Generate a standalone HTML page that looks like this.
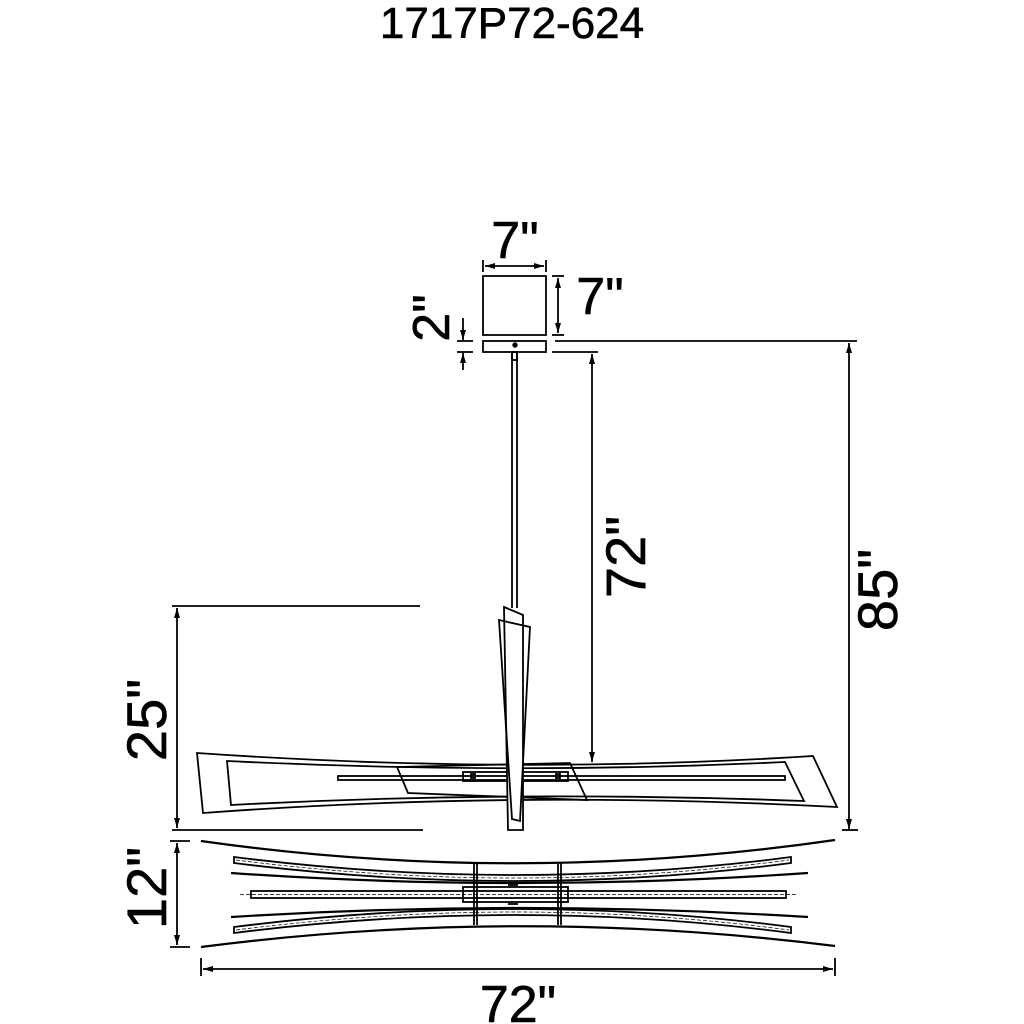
<!DOCTYPE html>
<html><head><meta charset="utf-8"><style>html,body{margin:0;padding:0;background:#fff}svg{display:block}</style></head>
<body>
<svg width="1024" height="1024" viewBox="0 0 1024 1024" xmlns="http://www.w3.org/2000/svg" font-family="Liberation Sans, sans-serif">
<defs>
<marker id="a" viewBox="0 0 10 6" refX="10" refY="3" markerWidth="10" markerHeight="6" orient="auto-start-reverse" markerUnits="userSpaceOnUse"><path d="M0,0 L10,3 L0,6 Z" fill="#000"/></marker>
</defs>
<g fill="#000" text-anchor="middle" stroke="#000" stroke-width="0.6">
<text x="512" y="38" font-size="44">1717P72-624</text>
<text x="515" y="258" font-size="52">7"</text>
<text x="600" y="314" font-size="52">7"</text>
<text transform="translate(449,318) rotate(-90)" font-size="52">2"</text>
<text transform="translate(645,557) rotate(-90)" font-size="56">72"</text>
<text transform="translate(897,590) rotate(-90)" font-size="56">85"</text>
<text transform="translate(166,720) rotate(-90)" font-size="56">25"</text>
<text transform="translate(166,888) rotate(-90)" font-size="56">12"</text>
<text x="518" y="1022" font-size="52">72"</text>
</g>
<g stroke="#000" stroke-width="1.8" fill="none">
<rect x="483" y="276" width="63" height="59"/>
<rect x="483" y="341" width="63" height="11"/>
<circle cx="515" cy="345" r="1.8" fill="#000"/>
<line x1="483" y1="260" x2="483" y2="272"/><line x1="546" y1="260" x2="546" y2="272"/>
<line x1="485" y1="266" x2="544" y2="266" marker-start="url(#a)" marker-end="url(#a)"/>
<line x1="552" y1="276" x2="564" y2="276"/><line x1="552" y1="335" x2="564" y2="335"/>
<line x1="558" y1="278" x2="558" y2="333" marker-start="url(#a)" marker-end="url(#a)"/>
<line x1="457" y1="341" x2="473" y2="341"/><line x1="457" y1="352" x2="473" y2="352"/>
<line x1="463" y1="318" x2="463" y2="340" marker-end="url(#a)"/>
<line x1="463" y1="370" x2="463" y2="353" marker-end="url(#a)"/>
<line x1="512" y1="352" x2="512" y2="608"/><line x1="517" y1="352" x2="517" y2="608"/>
<rect x="512" y="352" width="5" height="8"/>
<line x1="555" y1="341" x2="857" y2="341"/>
<line x1="552" y1="352" x2="598" y2="352"/>
<line x1="592" y1="354" x2="592" y2="762" marker-start="url(#a)" marker-end="url(#a)"/>
<line x1="849" y1="343" x2="849" y2="829" marker-start="url(#a)" marker-end="url(#a)"/>
<line x1="842" y1="830" x2="858" y2="830"/>
<line x1="172" y1="606" x2="420" y2="606"/>
<line x1="172" y1="830" x2="423" y2="830"/>
<line x1="177" y1="608" x2="177" y2="828" marker-start="url(#a)" marker-end="url(#a)"/>
<line x1="170" y1="841" x2="190" y2="841"/><line x1="170" y1="947" x2="190" y2="947"/>
<line x1="177" y1="843" x2="177" y2="945" marker-start="url(#a)" marker-end="url(#a)"/>
<line x1="201" y1="958" x2="201" y2="976"/><line x1="835" y1="958" x2="835" y2="976"/>
<line x1="203" y1="969" x2="833" y2="969" marker-start="url(#a)" marker-end="url(#a)"/>
<path d="M197,753 Q513,775 813,756 L837,807 Q513,790 203,813 Z"/>
<path d="M227,761 Q513,775 785,762 L804,801 Q513,790 231,805 Z"/>
<path d="M397,767 L570,763 L587,800 L408,793 Z"/>
<rect x="338" y="776" width="447" height="4"/>
<rect x="463" y="772" width="105" height="9"/>
<rect x="471" y="774" width="4" height="4"/><rect x="556" y="774" width="4" height="4"/>
<path d="M504,607 L523,615 L523,830 L508,830 Z" fill="#fff"/>
<path d="M499,620 L530,627 L520,821 L512,819 Z"/>
<path d="M201,841 Q518,886 835,840" stroke-width="2.2"/>
<path d="M201,947 Q518,906 835,946" stroke-width="2.2"/>
<path d="M231,873 Q518,893 808,873" stroke-width="2.2"/>
<path d="M231,917 Q518,899 808,917" stroke-width="2.2"/>
<path d="M234,857 Q518,893 791,857 L791,863 Q518,899 234,863 Z"/>
<path d="M234,927 Q518,891 791,927 L791,933 Q518,897 234,933 Z"/>
<rect x="251" y="891" width="535" height="7"/>
<rect x="463" y="887" width="105" height="15"/>
<line x1="474" y1="863" x2="474" y2="925"/><line x1="477" y1="863" x2="477" y2="925"/>
<line x1="558" y1="863" x2="558" y2="925"/><line x1="561" y1="863" x2="561" y2="925"/>
<line x1="508" y1="885" x2="518" y2="885"/><line x1="508" y1="904" x2="518" y2="904"/>
</g>
<g stroke="#000" stroke-width="0.7" stroke-dasharray="4,2" fill="none">
<path d="M236,860 Q518,896 789,860"/>
<path d="M236,930 Q518,894 789,930"/>
<line x1="240" y1="894.5" x2="798" y2="894.5"/>
</g>
</svg>
</body></html>
